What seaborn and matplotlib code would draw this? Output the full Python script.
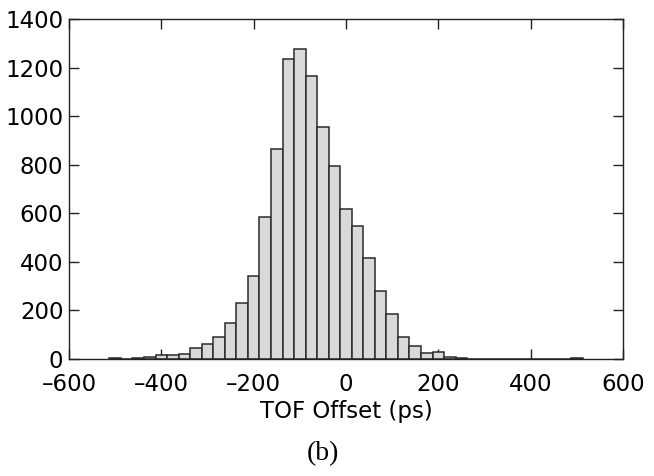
import numpy as np
import pandas as pd
import matplotlib
matplotlib.use("Agg")
import matplotlib.pyplot as plt
import seaborn as sns

# bin centres (ps) and counts
bin_centers = [-500, -475, -450, -425, -400, -375, -350, -325, -300, -275,
               -250, -225, -200, -175, -150, -125, -100, -75, -50, -25,
               0, 25, 50, 75, 100, 125, 150, 175, 200, 225,
               250, 275, 300, 325, 350, 375, 400, 425, 450, 475, 500]
counts = [4, 1, 3, 10, 17, 15, 21, 44, 61, 92,
          147, 231, 341, 583, 863, 1236, 1275, 1166, 957, 795,
          617, 548, 414, 278, 187, 92, 54, 25, 29, 8,
          4, 2, 1, 2, 0, 0, 0, 0, 0, 0, 3]
x_ticks = [-600, -400, -200, 0, 200, 400, 600]
y_ticks = [0, 200, 400, 600, 800, 1000, 1200, 1400]

df = pd.DataFrame({"offset": bin_centers, "count": counts})

sns.set_style("ticks")
plt.rcParams["font.family"] = ["DejaVu Sans"]
plt.rcParams["text.color"] = "black"

fig = plt.figure(figsize=(6.54, 4.76), dpi=100)
ax = fig.add_axes([0.1055, 0.2458, 0.8471, 0.7142])

sns.histplot(data=df, x="offset", weights="count", binwidth=25,
             binrange=(-512.5, 512.5), color="#d9d9d9", edgecolor="#2b2b2b",
             linewidth=1.1, alpha=1, ax=ax)

ax.set_xlim(-600, 600)
ax.set_ylim(0, 1400)
ax.set_xticks(x_ticks)
ax.set_yticks(y_ticks)
ax.set_xticklabels([str(t).replace("-", "\u2013") for t in x_ticks])
ax.tick_params(direction="in", length=7, width=1, top=True, right=True,
               labelsize=16.5, color="#222222", labelcolor="black")
ax.tick_params(axis="x", pad=10)
ax.tick_params(axis="y", pad=4)
for s in ax.spines.values():
    s.set_visible(True)
    s.set_linewidth(1)
    s.set_color("#222222")

ax.set_xlabel("TOF Offset (ps)", fontsize=16.5, labelpad=3, color="black")
ax.set_ylabel("")

fig.text(0.494, 0.048, "(b)", ha="center", va="center", fontsize=20,
         family="Liberation Serif", color="black")

fig.savefig("out.png", dpi=100)
